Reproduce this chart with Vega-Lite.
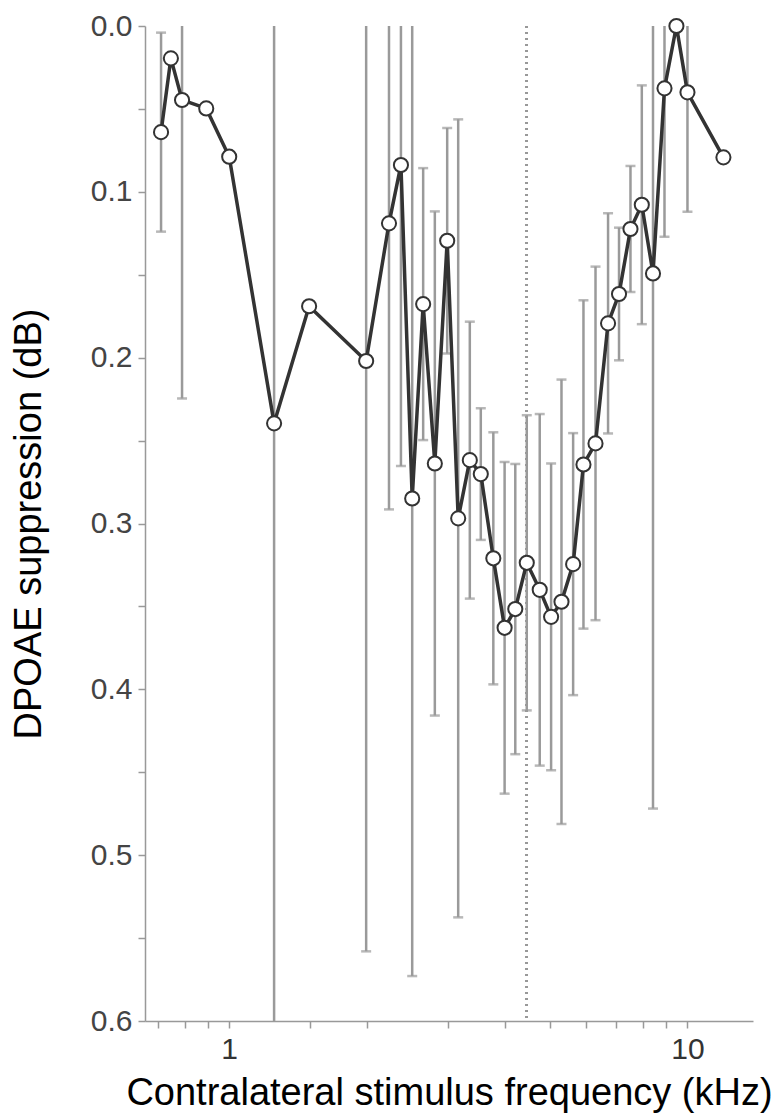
{
  "$schema": "https://vega.github.io/schema/vega-lite/v6.json",
  "autosize": "none",
  "width": 608,
  "height": 995,
  "padding": {"left": 145, "top": 26, "right": 27, "bottom": 94},
  "background": "white",
  "config": {
    "view": {"stroke": null},
    "axis": {"grid": false, "domainColor": "#999", "tickColor": "#999", "domainWidth": 1.5, "tickWidth": 1.5}
  },
  "data": {
    "values": [
      {"freq": 0.71, "supp": 0.064, "err": 0.06},
      {"freq": 0.746, "supp": 0.0195, "err": null},
      {"freq": 0.789, "supp": 0.0446, "err": 0.18},
      {"freq": 0.891, "supp": 0.0497, "err": null},
      {"freq": 1.0, "supp": 0.0788, "err": null},
      {"freq": 1.253, "supp": 0.2396, "err": 0.4},
      {"freq": 1.494, "supp": 0.169, "err": null},
      {"freq": 1.99, "supp": 0.202, "err": 0.356},
      {"freq": 2.232, "supp": 0.119, "err": 0.1725},
      {"freq": 2.37, "supp": 0.0838, "err": 0.1816},
      {"freq": 2.508, "supp": 0.2849, "err": 0.288},
      {"freq": 2.65, "supp": 0.1677, "err": 0.082},
      {"freq": 2.81, "supp": 0.2638, "err": 0.152},
      {"freq": 2.99, "supp": 0.1295, "err": 0.068},
      {"freq": 3.16, "supp": 0.2969, "err": 0.2406},
      {"freq": 3.35, "supp": 0.2618, "err": 0.0835},
      {"freq": 3.54, "supp": 0.2702, "err": 0.0397},
      {"freq": 3.77, "supp": 0.321, "err": 0.076},
      {"freq": 3.99, "supp": 0.3629, "err": 0.1},
      {"freq": 4.21, "supp": 0.3516, "err": 0.0875},
      {"freq": 4.46, "supp": 0.3237, "err": 0.089},
      {"freq": 4.76, "supp": 0.34, "err": 0.106},
      {"freq": 5.04, "supp": 0.3563, "err": 0.0925},
      {"freq": 5.31, "supp": 0.3472, "err": 0.134},
      {"freq": 5.63, "supp": 0.3245, "err": 0.079},
      {"freq": 5.93, "supp": 0.2644, "err": 0.099},
      {"freq": 6.3, "supp": 0.2517, "err": 0.1066},
      {"freq": 6.71, "supp": 0.1793, "err": 0.0664},
      {"freq": 7.09, "supp": 0.1616, "err": 0.04},
      {"freq": 7.51, "supp": 0.1224, "err": 0.038},
      {"freq": 7.95, "supp": 0.1078, "err": 0.072},
      {"freq": 8.41, "supp": 0.1492, "err": 0.3227},
      {"freq": 8.91, "supp": 0.0376, "err": 0.0895},
      {"freq": 9.46, "supp": 0.0, "err": null},
      {"freq": 10.0, "supp": 0.04, "err": 0.072},
      {"freq": 11.98, "supp": 0.0792, "err": null}
    ]
  },
  "encoding": {
    "x": {
      "field": "freq", "type": "quantitative",
      "scale": {"type": "log", "domain": [0.655, 13.9], "nice": false},
      "axis": {
        "values": [0.7, 0.8, 0.9, 1, 1.5, 2, 3, 4, 5, 6, 7, 8, 9, 10],
        "labelExpr": "datum.value == 1 || datum.value == 10 ? datum.value : ''",
        "tickSize": 7, "labelPadding": 6,
        "labelFont": "Liberation Sans", "labelFontSize": 30, "labelColor": "#333",
        "title": "Contralateral stimulus frequency (kHz)",
        "titleFont": "Liberation Sans", "titleFontSize": 38, "titleFontWeight": "normal", "titleColor": "#000",
        "titlePadding": 10
      }
    },
    "y": {
      "field": "supp", "type": "quantitative",
      "scale": {"domain": [0, 0.6], "reverse": true, "nice": false},
      "axis": {
        "values": [0, 0.05, 0.1, 0.15, 0.2, 0.25, 0.3, 0.35, 0.4, 0.45, 0.5, 0.55, 0.6],
        "labelExpr": "round(datum.value * 20) % 2 == 0 ? format(datum.value, '.1f') : ''",
        "tickSize": 7, "labelPadding": 6,
        "labelFont": "Liberation Sans", "labelFontSize": 30, "labelColor": "#444",
        "title": "DPOAE suppression (dB)",
        "titleFont": "Liberation Sans", "titleFontSize": 38, "titleFontWeight": "normal", "titleColor": "#000",
        "titlePadding": 42
      }
    }
  },
  "layer": [
    {
      "mark": {"type": "rule", "color": "#999", "strokeDash": [2, 4], "strokeWidth": 2},
      "encoding": {"x": {"datum": 4.45}, "y": null}
    },
    {
      "transform": [{"filter": "isValid(datum.err)"}],
      "mark": {"type": "errorbar", "ticks": {"size": 10}, "color": "#9a9a9a", "thickness": 2.5, "clip": true},
      "encoding": {"yError": {"field": "err"}}
    },
    {
      "mark": {"type": "line", "color": "#333", "strokeWidth": 3.5}
    },
    {
      "mark": {"type": "point", "shape": "circle", "filled": true, "fill": "white", "stroke": "#333", "strokeWidth": 2, "size": 200, "opacity": 1}
    }
  ]
}
